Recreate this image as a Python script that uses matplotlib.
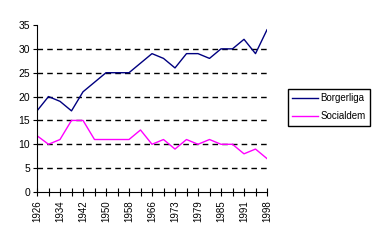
import matplotlib
matplotlib.use("Agg")
import matplotlib.pyplot as plt

plt.rcParams['font.family'] = ['Liberation Sans', 'DejaVu Sans']

# election years (categorical axis, every other one labelled)
years = ['1926', '1930', '1934', '1938', '1942', '1946', '1950', '1954', '1958', '1962',
         '1966', '1970', '1973', '1976', '1979', '1982', '1985', '1988', '1991', '1994', '1998']
borgerliga = [17, 20, 19, 17, 21, 23, 25, 25, 25, 27, 29, 28, 26, 29, 29, 28, 30, 30, 32, 29, 34]
socialdem = [11.8, 10, 11, 15, 15, 11, 11, 11, 11, 13, 10, 11, 9, 11, 10, 11, 10, 10, 8, 9, 7]

fig = plt.figure(figsize=(3.84, 2.41), dpi=100)
ax = fig.add_axes([37/384, 1-192/241, 230/384, 167/241])

x = list(range(len(years)))
ax.plot(x, borgerliga, color='#000080', lw=1, label='Borgerliga')
ax.plot(x, socialdem, color='#FF00FF', lw=1, label='Socialdem')

ax.set_xlim(0, len(years)-1)
ax.set_ylim(0, 35)
ax.set_yticks(range(0, 36, 5))
ax.set_xticks(x)
ax.set_xticklabels([y if i % 2 == 0 else '' for i, y in enumerate(years)], rotation=90)

for v in range(5, 35, 5):
    ax.axhline(v, color='black', lw=1, ls=(0, (4, 3)), zorder=0)

ax.spines['top'].set_visible(False)
ax.spines['right'].set_visible(False)
ax.tick_params(axis='y', direction='out', length=3, labelsize=7.5, pad=2)
ax.tick_params(axis='x', direction='inout', length=6, labelsize=7, pad=3)

leg = ax.legend(loc='upper left', bbox_to_anchor=(288/384, 1-89/241),
                bbox_transform=fig.transFigure, fancybox=False, edgecolor='black',
                fontsize=7, handlelength=2.6, handletextpad=0.3, framealpha=1,
                borderaxespad=0, labelspacing=0.8, borderpad=0.45)
leg.get_frame().set_linewidth(1)

fig.savefig('out.png', dpi=100)
